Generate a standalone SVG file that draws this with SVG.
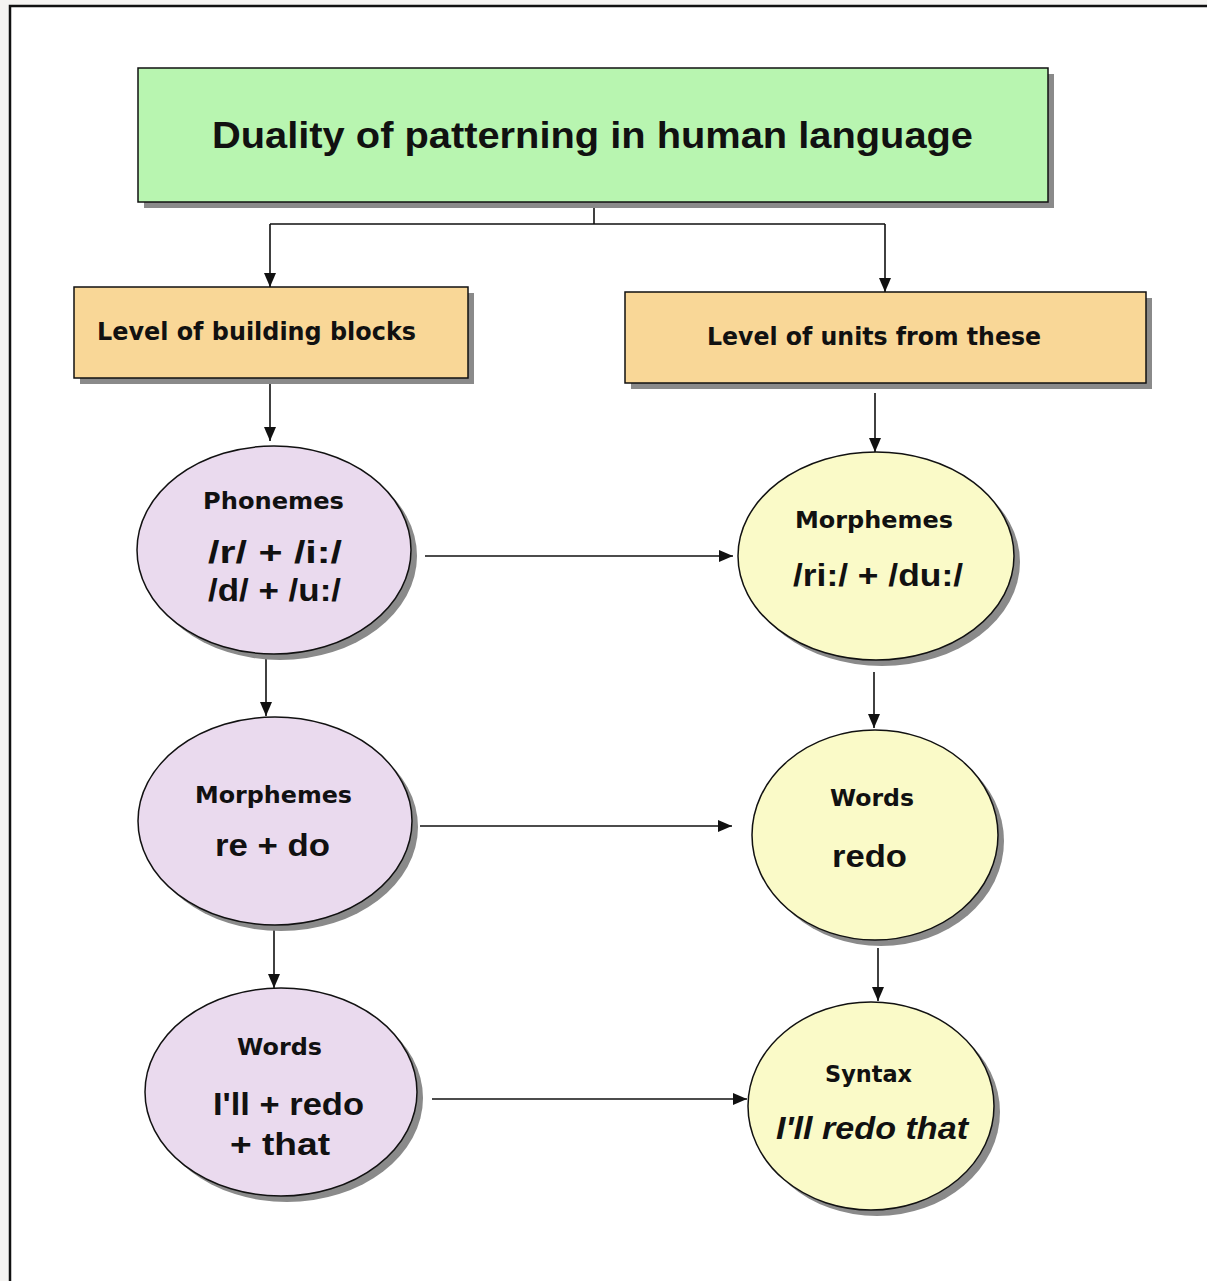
<svg xmlns="http://www.w3.org/2000/svg" width="1207" height="1281" viewBox="0 0 1207 1281">
<defs>
<style>
.frame{fill:#ffffff;stroke:#111;stroke-width:2.5}
.shadow{fill:#8a8a8a}
.box{stroke:#111;stroke-width:1.5}
.green{fill:#b8f5b0}
.orange{fill:#f9d797}
.purple{fill:#eadaee}
.yellow{fill:#fafac8}
.conn{fill:none;stroke:#111;stroke-width:1.6}
.head{font-family:"DejaVu Sans","Liberation Sans",sans-serif;font-weight:bold;fill:#111}
.body{font-family:"Liberation Sans",Arial,sans-serif;font-weight:bold;fill:#111}
</style>
<marker id="ah" viewBox="0 0 14 12" refX="14" refY="6" markerWidth="14" markerHeight="12" markerUnits="userSpaceOnUse" orient="auto">
<path d="M0,0 L14,6 L0,12 z" fill="#111"/>
</marker>
</defs>
<rect x="0" y="0" width="1207" height="1281" fill="#f5f4f2"/>
<rect class="frame" x="10" y="6" width="1210" height="1290"/>

<g id="connectors">
<path class="conn" d="M594,202 V224 M270,224 H885"/>
<path class="conn" d="M270,224 V287" marker-end="url(#ah)"/>
<path class="conn" d="M885,224 V292" marker-end="url(#ah)"/>
<path class="conn" d="M270,380 V441" marker-end="url(#ah)"/>
<path class="conn" d="M875,393 V452" marker-end="url(#ah)"/>
<path class="conn" d="M425,556 H733" marker-end="url(#ah)"/>
<path class="conn" d="M266,657 V716" marker-end="url(#ah)"/>
<path class="conn" d="M874,672 V728" marker-end="url(#ah)"/>
<path class="conn" d="M420,826 H732" marker-end="url(#ah)"/>
<path class="conn" d="M274,930 V988" marker-end="url(#ah)"/>
<path class="conn" d="M878,948 V1001" marker-end="url(#ah)"/>
<path class="conn" d="M432,1099 H747" marker-end="url(#ah)"/>
</g>

<g id="title">
<rect class="shadow" x="144" y="74" width="910" height="134"/>
<rect class="box green" x="138" y="68" width="910" height="134"/>
<text class="body" x="212" y="148" font-size="37" textLength="761" lengthAdjust="spacingAndGlyphs">Duality of patterning in human language</text>
</g>

<g id="level-building">
<rect class="shadow" x="80" y="293" width="394" height="91"/>
<rect class="box orange" x="74" y="287" width="394" height="91"/>
<text class="head" x="97" y="340" font-size="24" textLength="319" lengthAdjust="spacingAndGlyphs">Level of building blocks</text>
</g>

<g id="level-units">
<rect class="shadow" x="631" y="298" width="521" height="91"/>
<rect class="box orange" x="625" y="292" width="521" height="91"/>
<text class="head" x="707" y="345" font-size="24" textLength="334" lengthAdjust="spacingAndGlyphs">Level of units from these</text>
</g>

<g id="phonemes">
<ellipse class="shadow" cx="280" cy="556" rx="137" ry="104"/>
<ellipse class="box purple" cx="274" cy="550" rx="137" ry="104"/>
<text class="head" x="203" y="509" font-size="23" textLength="141" lengthAdjust="spacingAndGlyphs">Phonemes</text>
<text class="body" x="208" y="563" font-size="31" textLength="134" lengthAdjust="spacingAndGlyphs">/r/ + /i:/</text>
<text class="body" x="208" y="601" font-size="31" textLength="133" lengthAdjust="spacingAndGlyphs">/d/ + /u:/</text>
</g>

<g id="morphemes-right">
<ellipse class="shadow" cx="882" cy="562" rx="138" ry="104"/>
<ellipse class="box yellow" cx="876" cy="556" rx="138" ry="104"/>
<text class="head" x="795" y="528" font-size="23" textLength="158" lengthAdjust="spacingAndGlyphs">Morphemes</text>
<text class="body" x="793" y="586" font-size="31" textLength="170" lengthAdjust="spacingAndGlyphs">/ri:/ + /du:/</text>
</g>

<g id="morphemes-left">
<ellipse class="shadow" cx="281" cy="827" rx="137" ry="104"/>
<ellipse class="box purple" cx="275" cy="821" rx="137" ry="104"/>
<text class="head" x="195" y="803" font-size="23" textLength="157" lengthAdjust="spacingAndGlyphs">Morphemes</text>
<text class="body" x="215" y="856" font-size="31" textLength="115" lengthAdjust="spacingAndGlyphs">re + do</text>
</g>

<g id="words-right">
<ellipse class="shadow" cx="881" cy="841" rx="123" ry="105"/>
<ellipse class="box yellow" cx="875" cy="835" rx="123" ry="105"/>
<text class="head" x="830" y="806" font-size="23" textLength="84" lengthAdjust="spacingAndGlyphs">Words</text>
<text class="body" x="832" y="867" font-size="31" textLength="75" lengthAdjust="spacingAndGlyphs">redo</text>
</g>

<g id="words-left">
<ellipse class="shadow" cx="287" cy="1098" rx="136" ry="104"/>
<ellipse class="box purple" cx="281" cy="1092" rx="136" ry="104"/>
<text class="head" x="237" y="1055" font-size="23" textLength="85" lengthAdjust="spacingAndGlyphs">Words</text>
<text class="body" x="213" y="1115" font-size="31" textLength="151" lengthAdjust="spacingAndGlyphs">I'll + redo</text>
<text class="body" x="230" y="1155" font-size="31" textLength="100" lengthAdjust="spacingAndGlyphs">+  that</text>
</g>

<g id="syntax">
<ellipse class="shadow" cx="877" cy="1112" rx="123" ry="104"/>
<ellipse class="box yellow" cx="871" cy="1106" rx="123" ry="104"/>
<text class="head" x="825" y="1082" font-size="23" textLength="87" lengthAdjust="spacingAndGlyphs">Syntax</text>
<text class="body" x="776" y="1139" font-size="31" font-style="italic" textLength="192" lengthAdjust="spacingAndGlyphs">I'll redo that</text>
</g>
</svg>
